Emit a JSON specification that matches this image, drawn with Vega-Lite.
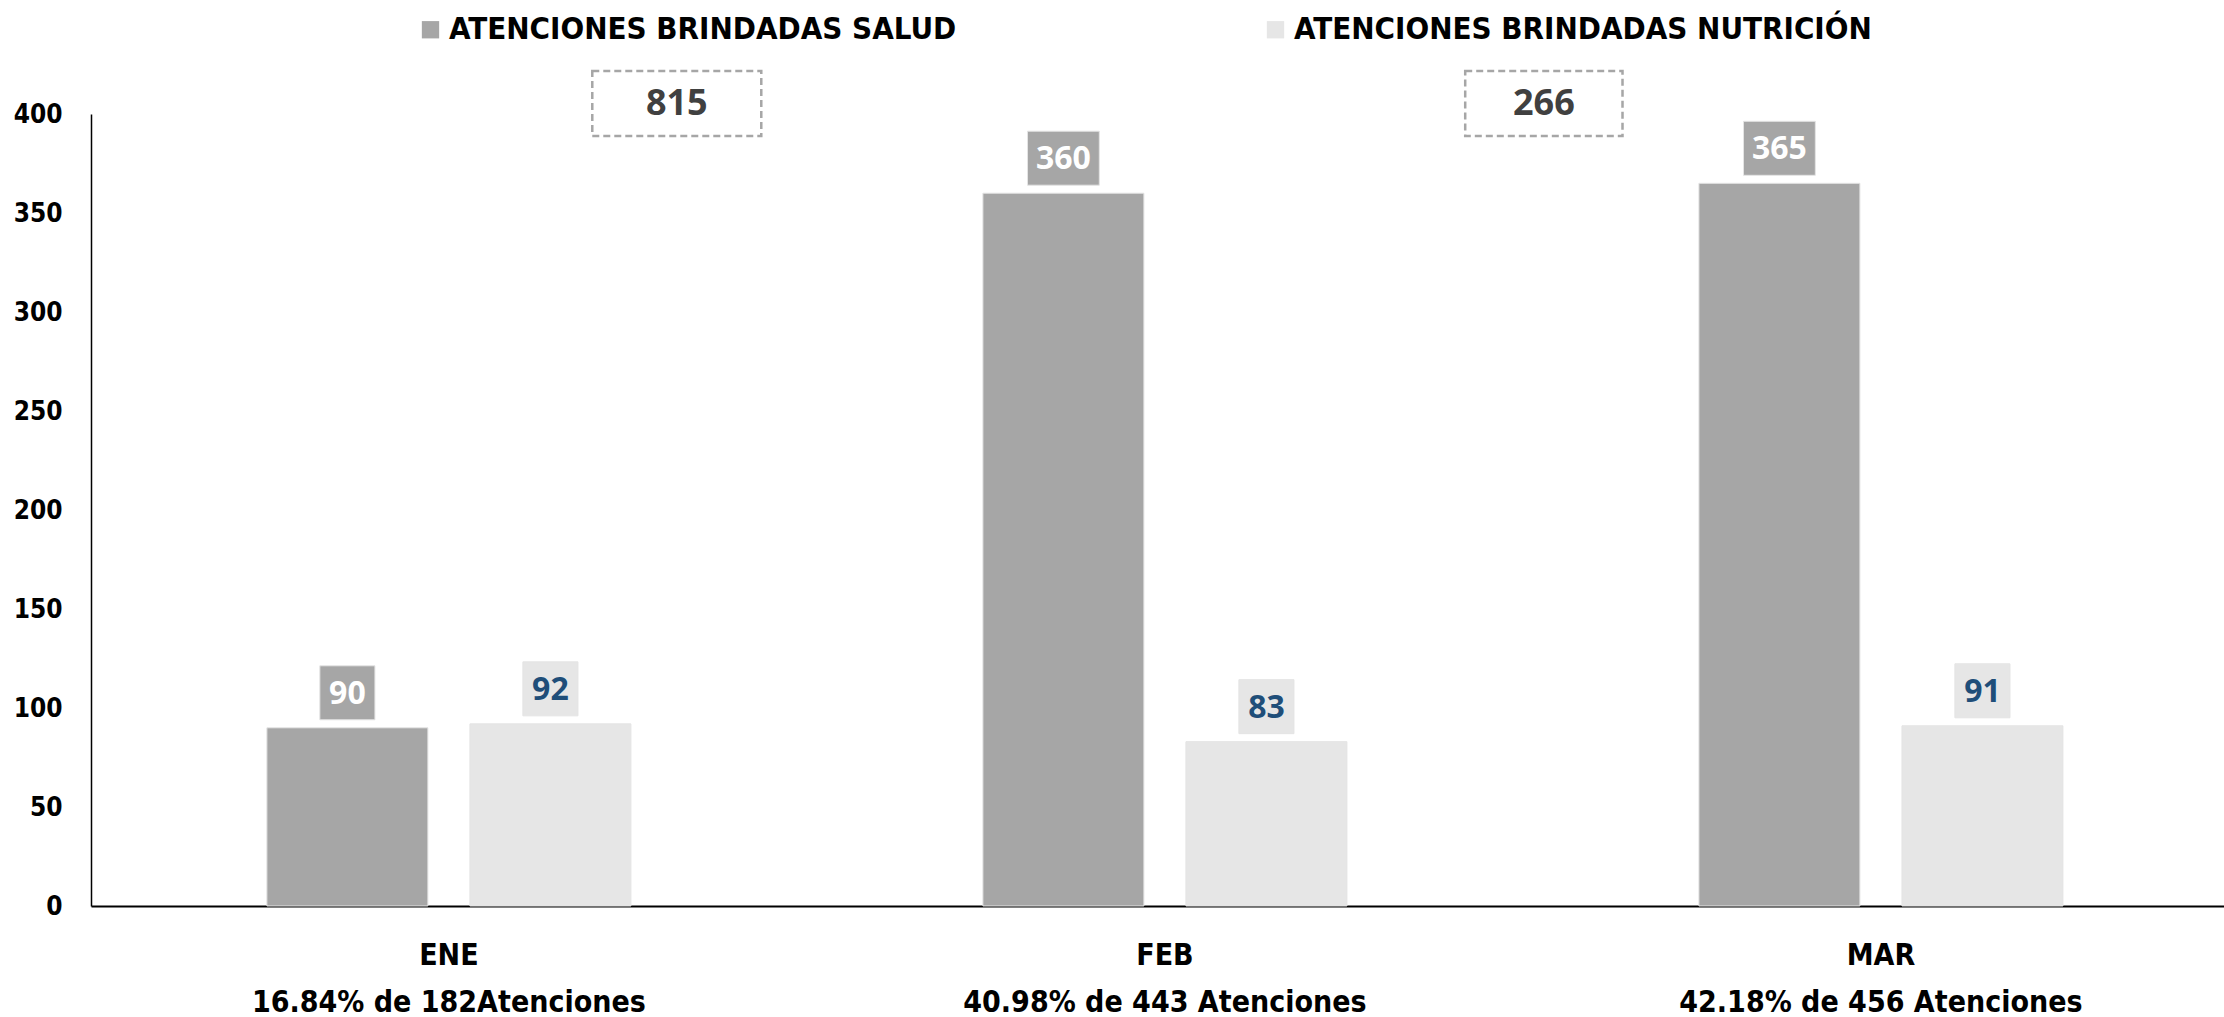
{
  "$schema": "https://vega.github.io/schema/vega-lite/v6.json",
  "autosize": {"type": "none"},
  "width": 2133,
  "height": 792,
  "padding": {"left": 91, "top": 114, "right": 0, "bottom": 111},
  "background": "white",
  "config": {"view": {"stroke": null}},
  "datasets": {
    "meses": [
      {"mes": "ENE", "serie": "ATENCIONES BRINDADAS SALUD", "valor": 90},
      {"mes": "ENE", "serie": "ATENCIONES BRINDADAS NUTRICIÓN", "valor": 92},
      {"mes": "FEB", "serie": "ATENCIONES BRINDADAS SALUD", "valor": 360},
      {"mes": "FEB", "serie": "ATENCIONES BRINDADAS NUTRICIÓN", "valor": 83},
      {"mes": "MAR", "serie": "ATENCIONES BRINDADAS SALUD", "valor": 365},
      {"mes": "MAR", "serie": "ATENCIONES BRINDADAS NUTRICIÓN", "valor": 91}
    ],
    "totales": [
      {"serie": "ATENCIONES BRINDADAS SALUD", "total": 815},
      {"serie": "ATENCIONES BRINDADAS NUTRICIÓN", "total": 266}
    ]
  },
  "layer": [
    {
      "data": {"name": "meses"},
      "mark": {"type": "bar", "stroke": "#e4e4e4", "strokeWidth": 1},
      "encoding": {
        "x": {
          "field": "mes", "type": "nominal", "sort": ["ENE", "FEB", "MAR"],
          "scale": {"paddingInner": 0.4916, "paddingOuter": 0.2353, "align": 0.522},
          "axis": {
            "title": null, "ticks": false, "domainColor": "#000000", "domainWidth": 2,
            "labelAngle": 0, "labelFont": "Liberation Sans Narrow, DejaVu Sans Condensed, sans-serif",
            "labelFontWeight": "bold", "labelFontSize": 30, "labelColor": "#000000",
            "labelPadding": 34, "labelLineHeight": 47, "labelLimit": 1000,
            "labelExpr": "datum.value == 'ENE' ? ['ENE', '16.84% de 182Atenciones'] : datum.value == 'FEB' ? ['FEB', '40.98% de 443 Atenciones'] : ['MAR', '42.18% de 456 Atenciones']"
          }
        },
        "xOffset": {
          "field": "serie", "type": "nominal",
          "sort": ["ATENCIONES BRINDADAS SALUD", "ATENCIONES BRINDADAS NUTRICIÓN"],
          "scale": {"paddingInner": 0.207, "paddingOuter": 0}
        },
        "y": {
          "field": "valor", "type": "quantitative",
          "scale": {"domain": [0, 400], "nice": false},
          "axis": {
            "title": null, "ticks": false, "grid": false, "values": [0, 50, 100, 150, 200, 250, 300, 350, 400],
            "domainColor": "#000000", "domainWidth": 1.5,
            "labelFont": "Liberation Sans Narrow, DejaVu Sans Condensed, sans-serif",
            "labelFontWeight": "bold", "labelFontSize": 26, "labelColor": "#000000", "labelPadding": 29
          }
        },
        "color": {
          "field": "serie", "type": "nominal",
          "scale": {
            "domain": ["ATENCIONES BRINDADAS SALUD", "ATENCIONES BRINDADAS NUTRICIÓN"],
            "range": ["#a6a6a6", "#e6e6e6"]
          },
          "legend": {
            "title": null, "orient": "none", "direction": "horizontal",
            "legendX": 324, "legendY": -100,
            "symbolType": "square", "symbolSize": 300, "symbolStrokeWidth": 0,
            "labelFont": "Liberation Sans Narrow, DejaVu Sans Condensed, sans-serif",
            "labelFontWeight": "bold", "labelFontSize": 31, "labelColor": "#000000",
            "labelLimit": 1000, "labelOffset": 3, "columnPadding": 303
          }
        }
      }
    },
    {
      "data": {"name": "meses"},
      "mark": {"type": "point", "filled": true, "opacity": 1, "size": 2916, "yOffset": -35, "stroke": "#e4e4e4", "strokeWidth": 1},
      "encoding": {
        "x": {"field": "mes", "type": "nominal", "sort": ["ENE", "FEB", "MAR"]},
        "xOffset": {"field": "serie", "type": "nominal", "sort": ["ATENCIONES BRINDADAS SALUD", "ATENCIONES BRINDADAS NUTRICIÓN"]},
        "y": {"field": "valor", "type": "quantitative"},
        "color": {"field": "serie", "type": "nominal"},
        "shape": {
          "condition": {"test": "datum.valor >= 100", "value": "M-1.33,-1H1.33V1H-1.33Z"},
          "value": "M-1.02,-1H1.02V1H-1.02Z"
        }
      }
    },
    {
      "data": {"name": "meses"},
      "mark": {"type": "text", "yOffset": -34, "baseline": "middle", "align": "center", "font": "Open Sans", "fontWeight": "bold", "fontSize": 32},
      "encoding": {
        "x": {"field": "mes", "type": "nominal", "sort": ["ENE", "FEB", "MAR"]},
        "xOffset": {"field": "serie", "type": "nominal", "sort": ["ATENCIONES BRINDADAS SALUD", "ATENCIONES BRINDADAS NUTRICIÓN"]},
        "y": {"field": "valor", "type": "quantitative"},
        "text": {"field": "valor", "type": "quantitative"},
        "color": {
          "condition": {"test": "datum.serie == 'ATENCIONES BRINDADAS SALUD'", "value": "#ffffff"},
          "value": "#1f4e79"
        }
      }
    },
    {
      "data": {"name": "totales"},
      "transform": [{"filter": "datum.serie == 'ATENCIONES BRINDADAS SALUD'"}],
      "layer": [
        {
          "mark": {"type": "point", "filled": false, "fill": "#ffffff", "fillOpacity": 1, "opacity": 1, "size": 4225, "yOffset": -10.5, "stroke": "#a6a6a6", "strokeWidth": 2.5, "strokeDash": [7, 4], "shape": "M-2.6,-1H2.6V1H-2.6Z"},
          "encoding": {
            "x": {"datum": "ENE", "type": "nominal", "bandPosition": 1.126},
            "y": {"datum": 400, "type": "quantitative"}
          }
        },
        {
          "mark": {"type": "text", "yOffset": -10.5, "baseline": "middle", "align": "center", "font": "Open Sans", "fontWeight": "bold", "fontSize": 36, "color": "#404040"},
          "encoding": {
            "x": {"datum": "ENE", "type": "nominal", "bandPosition": 1.126},
            "y": {"datum": 400, "type": "quantitative"},
            "text": {"field": "total", "type": "quantitative"}
          }
        }
      ]
    },
    {
      "data": {"name": "totales"},
      "transform": [{"filter": "datum.serie == 'ATENCIONES BRINDADAS NUTRICIÓN'"}],
      "layer": [
        {
          "mark": {"type": "point", "filled": false, "fill": "#ffffff", "fillOpacity": 1, "opacity": 1, "size": 4225, "yOffset": -10.5, "stroke": "#a6a6a6", "strokeWidth": 2.5, "strokeDash": [7, 4], "shape": "M-2.42,-1H2.42V1H-2.42Z"},
          "encoding": {
            "x": {"datum": "FEB", "type": "nominal", "bandPosition": 1.541},
            "y": {"datum": 400, "type": "quantitative"}
          }
        },
        {
          "mark": {"type": "text", "yOffset": -10.5, "baseline": "middle", "align": "center", "font": "Open Sans", "fontWeight": "bold", "fontSize": 36, "color": "#404040"},
          "encoding": {
            "x": {"datum": "FEB", "type": "nominal", "bandPosition": 1.541},
            "y": {"datum": 400, "type": "quantitative"},
            "text": {"field": "total", "type": "quantitative"}
          }
        }
      ]
    }
  ]
}
